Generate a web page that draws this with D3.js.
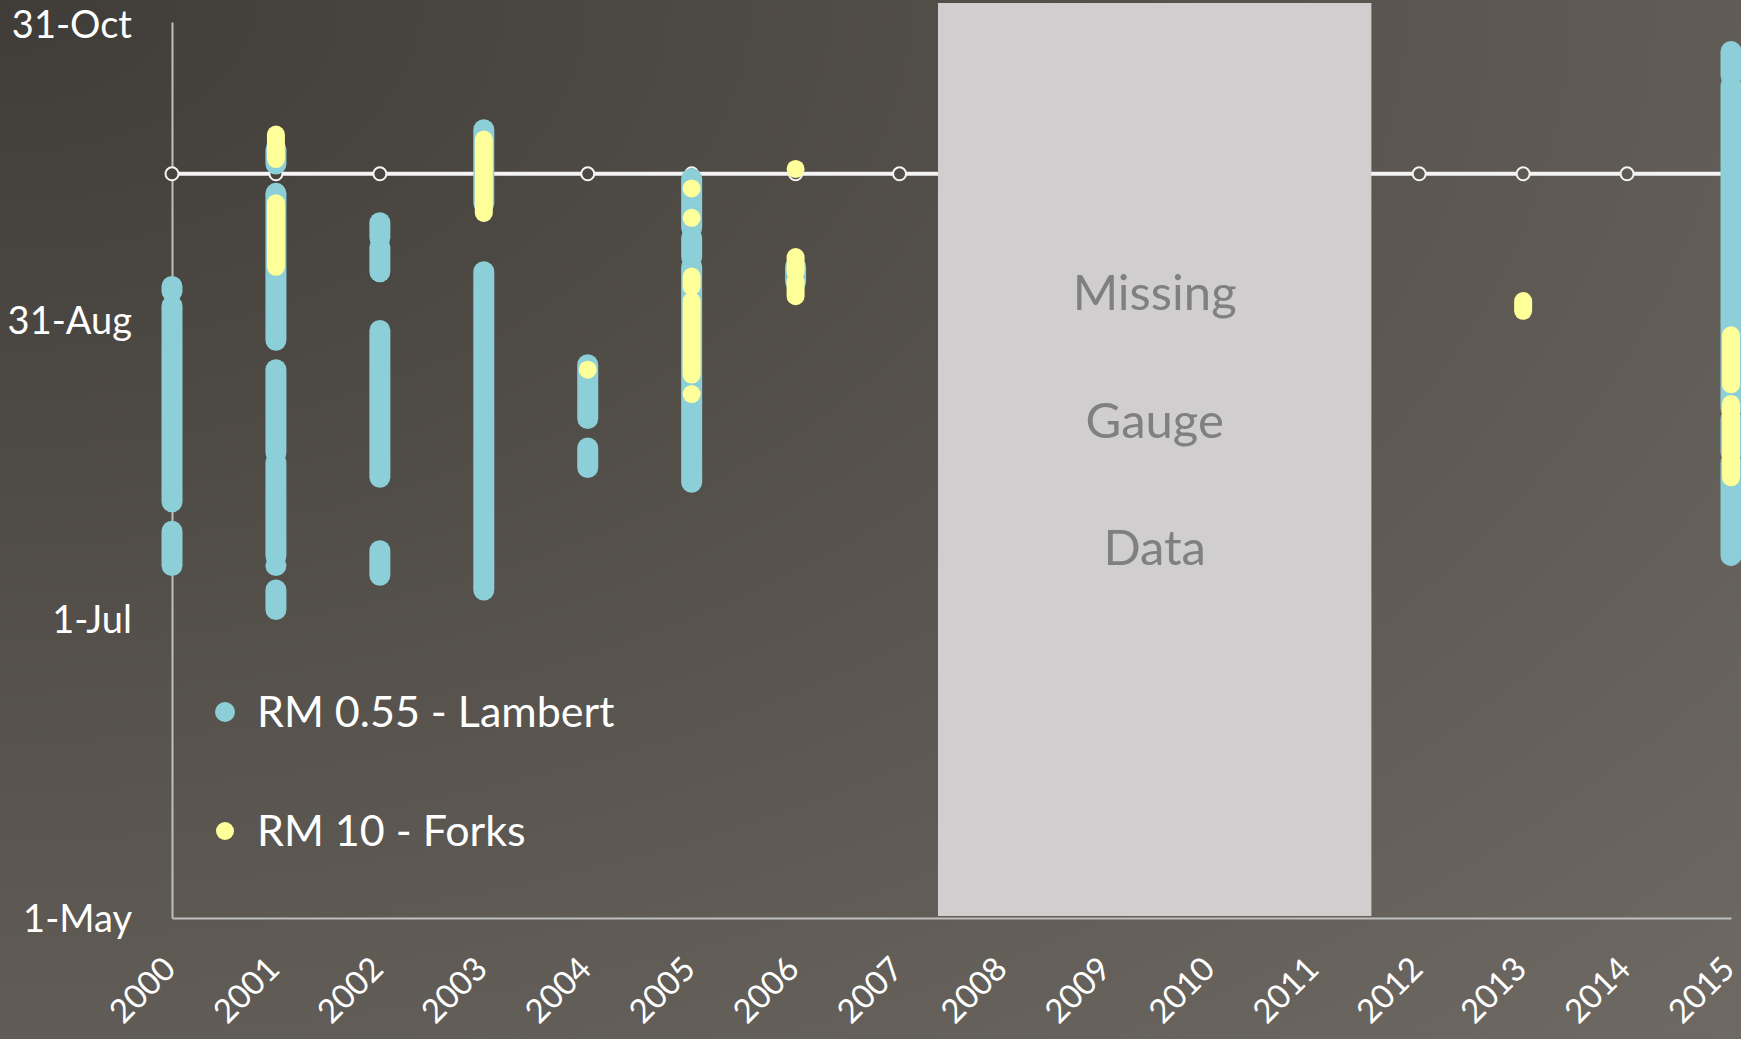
<!DOCTYPE html>
<html>
    <head>
        <script src="https://d3js.org/d3.v7.min.js"></script>
        <style>
            body { margin: 0; overflow: hidden; }
            text { font-family: Lato, "Open Sans", sans-serif; }
        </style>
    </head>
    <body>
        <svg id="chart" width="1741" height="1039"></svg>
        <script>
            // years on the x axis
            var years = d3.range(2000, 2016);
            // y axis ticks (month-day)
            var yTicks = ["05-01", "07-01", "08-31", "10-31"];
            // horizontal reference line, same date each year
            var thresholdDate = "09-30";
            // years with no gauge record
            var missingSpan = [2007.37, 2011.54];
            var missingText = ["Missing", "Gauge", "Data"];

            // runs of consecutive days: [year, first day, last day]
            var lambertRuns = [
                [2000, "09-06", "09-07"], [2000, "07-25", "09-03"], [2000, "07-12", "07-19"],
                [2001, "10-02", "10-05"], [2001, "08-27", "09-26"], [2001, "08-04", "08-21"],
                [2001, "07-14", "08-02"], [2001, "07-12", "07-12"], [2001, "07-03", "07-07"],
                [2002, "09-17", "09-20"], [2002, "09-10", "09-15"], [2002, "07-30", "08-29"],
                [2002, "07-10", "07-15"],
                [2003, "09-24", "10-09"], [2003, "07-07", "09-10"],
                [2004, "08-11", "08-22"], [2004, "08-01", "08-05"],
                [2005, "09-19", "09-29"], [2005, "09-13", "09-17"], [2005, "07-29", "09-11"],
                [2006, "09-08", "09-11"],
                [2015, "10-20", "10-25"], [2015, "08-13", "10-18"], [2015, "08-04", "08-11"],
                [2015, "07-14", "08-02"]
            ];
            var forksRuns = [
                [2001, "10-03", "10-08"], [2001, "09-11", "09-24"],
                [2003, "09-22", "10-07"],
                [2004, "08-21", "08-21"],
                [2005, "09-27", "09-27"], [2005, "09-21", "09-21"], [2005, "09-07", "09-09"],
                [2005, "08-20", "09-04"], [2005, "08-16", "08-16"],
                [2006, "10-01", "10-01"], [2006, "09-10", "09-13"], [2006, "09-05", "09-08"],
                [2013, "09-02", "09-04"],
                [2015, "08-18", "08-28"], [2015, "07-30", "08-14"]
            ];

            var width = 1741, height = 1039;
            var blue = "#8ccfd8", yellow = "#ffff99";
            var parse = d3.timeParse("%m-%d");
            var fmt = d3.timeFormat("%-d-%b");

            var svg = d3.select("#chart");

            var grad = svg.append("defs").append("radialGradient")
                .attr("id", "bg")
                .attr("gradientUnits", "userSpaceOnUse")
                .attr("cx", 0).attr("cy", 0).attr("r", 1.414)
                .attr("gradientTransform", "scale(" + width + "," + height + ")");
            grad.append("stop").attr("offset", 0).attr("stop-color", "#403c37");
            grad.append("stop").attr("offset", 1).attr("stop-color", "#6e6963");

            svg.append("rect").attr("width", width).attr("height", height).attr("fill", "url(#bg)");

            var x = d3.scaleLinear().domain([2000, 2015]).range([172, 1731]);
            var y = d3.scaleTime().domain([parse("05-01"), parse("10-31")]).range([918, 22]);

            // axes
            var yAxis = d3.axisLeft(y).tickValues(yTicks.map(parse)).tickFormat(fmt).tickSize(0).tickPadding(40);
            var gy = svg.append("g").attr("transform", "translate(" + x(2000) + ",0)").call(yAxis);
            gy.select(".domain").attr("stroke", "#bfbfbf").attr("stroke-width", 2);
            gy.selectAll("text").attr("fill", "#fff").attr("font-size", 38).attr("font-family", "Lato")
                .attr("dy", function (d, i) { return i == yTicks.length - 1 ? "0.42em" : "0.35em"; });

            var xAxis = d3.axisBottom(x).tickValues(years).tickFormat(d3.format("d")).tickSize(0);
            var gx = svg.append("g").attr("transform", "translate(0," + y.range()[0] + ")").call(xAxis);
            gx.select(".domain").attr("stroke", "#bfbfbf").attr("stroke-width", 2);
            gx.selectAll("text")
                .attr("fill", "#fff").attr("font-size", 33).attr("font-family", "Lato")
                .attr("text-anchor", "end")
                .attr("y", 0).attr("dy", 0)
                .attr("transform", "translate(5,53) rotate(-45)");

            // threshold line with hollow markers
            var ty = y(parse(thresholdDate));
            svg.append("path")
                .datum(years)
                .attr("d", d3.line().x(function (d) { return x(d); }).y(ty))
                .attr("stroke", "#f4f4f4").attr("stroke-width", 4).attr("fill", "none");
            svg.selectAll(".tmark").data(years).enter()
                .append("circle")
                .attr("class", "tmark")
                .attr("cx", function (d) { return x(d); })
                .attr("cy", ty)
                .attr("r", 6.5)
                .attr("fill", "url(#bg)")
                .attr("stroke", "#f4f4f4").attr("stroke-width", 2);

            // gray block covers the line across the gap
            svg.append("rect")
                .attr("x", x(missingSpan[0]))
                .attr("y", 3)
                .attr("width", x(missingSpan[1]) - x(missingSpan[0]))
                .attr("height", y.range()[0] - 5)
                .attr("fill", "#d0cecf");
            svg.selectAll(".missing").data(missingText).enter()
                .append("text")
                .attr("class", "missing")
                .attr("x", (x(missingSpan[0]) + x(missingSpan[1])) / 2)
                .attr("y", function (d, i) { return 310 + i * 127.5; })
                .attr("text-anchor", "middle")
                .attr("font-size", 49)
                .attr("fill", "#808080")
                .text(function (d) { return d; });

            function drawRuns(runs, r, color) {
                svg.append("g").selectAll("rect").data(runs).enter()
                    .append("rect")
                    .attr("x", function (d) { return x(d[0]) - r; })
                    .attr("y", function (d) { return y(parse(d[2])) - r; })
                    .attr("width", 2 * r)
                    .attr("height", function (d) { return y(parse(d[1])) - y(parse(d[2])) + 2 * r; })
                    .attr("rx", r).attr("ry", r)
                    .attr("fill", color);
            }
            drawRuns(lambertRuns, 10.5, blue);
            drawRuns(forksRuns, 9, yellow);

            // legend
            var legend = [["RM 0.55 - Lambert", blue, 712], ["RM 10 - Forks", yellow, 831]];
            var lg = svg.append("g").selectAll("g").data(legend).enter().append("g");
            lg.append("circle")
                .attr("cx", 225)
                .attr("cy", function (d) { return d[2]; })
                .attr("r", function (d, i) { return i == 0 ? 10 : 9; })
                .attr("fill", function (d) { return d[1]; });
            lg.append("text")
                .attr("x", 257)
                .attr("y", function (d) { return d[2]; })
                .attr("dy", "0.36em")
                .attr("font-size", 43)
                .attr("fill", "#fff")
                .text(function (d) { return d[0]; });
        </script>
    </body>
</html>
